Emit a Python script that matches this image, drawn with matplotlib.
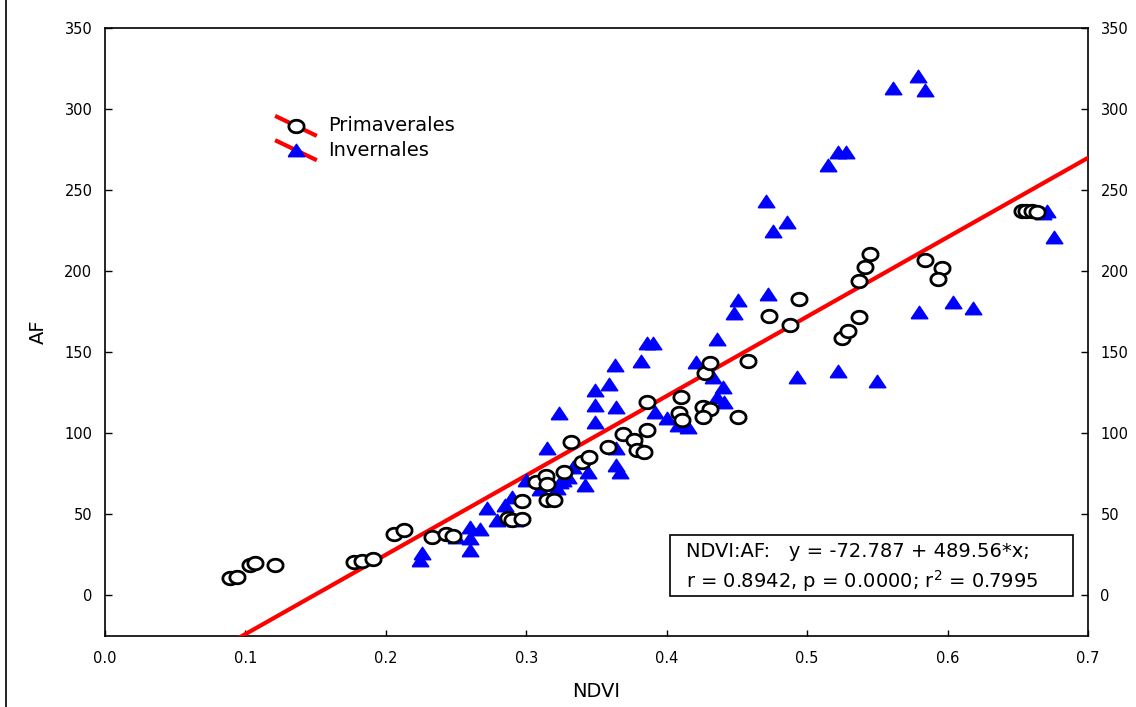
import numpy as np
import matplotlib
matplotlib.use('Agg')
import matplotlib.pyplot as plt
from matplotlib.lines import Line2D
from matplotlib.patches import Rectangle

# NDVI / AF values
prim_ndvi = [0.089, 0.094, 0.103, 0.107, 0.121, 0.177, 0.183, 0.191, 0.206, 0.213,
             0.233, 0.243, 0.248, 0.287, 0.290, 0.297, 0.297, 0.307, 0.314, 0.315,
             0.315, 0.320, 0.327, 0.332, 0.340, 0.345, 0.358, 0.369, 0.377, 0.379,
             0.384, 0.386, 0.386, 0.410, 0.409, 0.411, 0.426, 0.431, 0.426, 0.427,
             0.431, 0.451, 0.458, 0.473, 0.488, 0.494, 0.525, 0.529, 0.537, 0.537,
             0.541, 0.545, 0.584, 0.596, 0.593, 0.653, 0.656, 0.660, 0.664]
prim_af = [10.5, 11.1, 19.1, 19.8, 18.5, 20.4, 21.0, 22.2, 37.7, 40.1,
           35.8, 37.7, 36.4, 47.5, 46.3, 46.9, 58.0, 69.8, 73.5, 68.5,
           58.6, 58.6, 75.9, 94.4, 82.1, 85.2, 91.4, 99.4, 95.7, 89.5,
           88.3, 101.9, 119.1, 122.2, 112.3, 108.0, 116.0, 114.8, 109.9, 137.0,
           143.2, 109.9, 144.4, 172.2, 166.7, 182.7, 158.6, 163.0, 171.6, 193.8,
           202.5, 210.5, 206.8, 201.9, 195.1, 237.0, 237.0, 237.0, 236.4]

inv_ndvi = [0.224, 0.226, 0.250, 0.260, 0.267, 0.260, 0.260, 0.272, 0.279, 0.285,
            0.290, 0.292, 0.300, 0.310, 0.322, 0.326, 0.330, 0.324, 0.333, 0.344,
            0.342, 0.315, 0.323, 0.349, 0.349, 0.349, 0.359, 0.363, 0.364, 0.364,
            0.364, 0.367, 0.382, 0.386, 0.390, 0.392, 0.400, 0.408, 0.415, 0.421,
            0.433, 0.440, 0.436, 0.441, 0.436, 0.448, 0.451, 0.472, 0.471, 0.476,
            0.486, 0.493, 0.522, 0.515, 0.522, 0.528, 0.550, 0.561, 0.579, 0.584,
            0.580, 0.604, 0.618, 0.668, 0.671, 0.676]
inv_af = [21.6, 26.5, 35.8, 42.0, 40.7, 35.2, 27.8, 53.7, 46.3, 55.6,
          60.5, 46.3, 71.0, 65.4, 66.0, 71.0, 72.8, 69.8, 79.0, 75.9,
          67.9, 90.7, 112.3, 126.5, 117.3, 106.8, 130.2, 142.0, 116.0, 90.7,
          80.2, 75.9, 144.4, 155.6, 155.6, 113.0, 109.3, 104.9, 103.7, 143.8,
          134.6, 128.4, 122.2, 119.1, 158.0, 174.1, 182.1, 185.8, 243.2, 224.7,
          230.2, 134.6, 138.3, 265.4, 273.5, 273.5, 132.1, 313.0, 320.4, 311.7,
          174.7, 180.9, 177.2, 235.8, 237.0, 221.0]

intercept = -72.787
slope = 489.56

plt.rcParams['font.family'] = 'DejaVu Sans'

fig = plt.figure(figsize=(11.36, 7.07), dpi=100)
ax = fig.add_axes([0.0924, 0.1004, 0.8653, 0.86])

# regression line
xl = np.array([0.0, 0.7])
ax.plot(xl, intercept + slope * xl, color='red', lw=3, zorder=3)

# markers: triangles a bit wider than tall, circles slightly flattened
tri = [(-1, -0.75), (1, -0.75), (0, 0.75), (-1, -0.75)]
t = np.linspace(0, 2 * np.pi, 41)
ell = list(zip(np.cos(t), 0.82 * np.sin(t)))
circ_style = dict(ls='none', marker=ell, ms=11, mfc='white', mec='black', mew=2)
tri_style = dict(ls='none', marker=tri, ms=12, color='blue', mec='blue')

ax.plot(inv_ndvi, inv_af, zorder=4, **tri_style)
ax.plot(prim_ndvi, prim_af, zorder=5, **circ_style)

ax.set_xlim(0, 0.7)
ax.set_ylim(-25, 350)
ax.set_xticks(np.arange(0, 0.71, 0.1))
ax.set_xticklabels(['0.0', '0.1', '0.2', '0.3', '0.4', '0.5', '0.6', '0.7'])
ax.set_yticks(np.arange(0, 351, 50))
ax.tick_params(axis='x', direction='in', length=4, width=1, pad=11, labelsize=10.5)
ax.tick_params(axis='y', direction='in', length=5, width=1, pad=9, labelsize=10.5,
               right=True, labelright=True)
for s in ax.spines.values():
    s.set_linewidth(1.2)

ax.set_xlabel('NDVI', fontsize=14, labelpad=11)
ax.set_ylabel('AF', fontsize=14, labelpad=12)

# legend drawn by hand in axes fraction
legend_rows = [('Primaverales', 0.839, circ_style), ('Invernales', 0.799, tri_style)]
for name, yc, style in legend_rows:
    ax.add_line(Line2D([0.175, 0.2136], [yc + 0.015, yc - 0.015], color='red',
                       lw=3, transform=ax.transAxes))
    ax.plot(0.1943, yc, transform=ax.transAxes, **style)
    ax.text(0.2269, yc, name, fontsize=14, va='center', ha='left',
            transform=ax.transAxes)

# statistics box
ax.add_patch(Rectangle((0.5748, 0.0658), 0.41, 0.1003, transform=ax.transAxes,
                       fill=True, fc='white', ec='black', lw=1.2, zorder=6))
ax.text(0.591, 0.1398, 'NDVI:AF:   y = -72.787 + 489.56*x;', fontsize=14,
        va='center', ha='left', transform=ax.transAxes, zorder=7)
ax.text(0.591, 0.0905, 'r = 0.8942, p = 0.0000; r$^2$ = 0.7995', fontsize=14,
        va='center', ha='left', transform=ax.transAxes, zorder=7)

# thin border line at the left edge of the image
fig.add_artist(Line2D([6 / 1136, 6 / 1136], [0, 1], color='black', lw=1.2,
                      transform=fig.transFigure))

fig.savefig('out.png', dpi=100)
